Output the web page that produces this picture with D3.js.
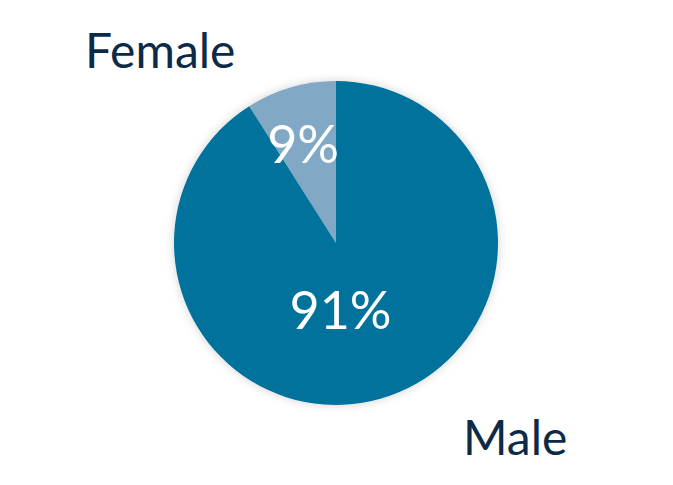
<!DOCTYPE html>
<html>
<head>
<meta charset="utf-8">
<script src="https://cdn.jsdelivr.net/npm/d3@7"></script>
<style>
  html, body { margin: 0; padding: 0; background: #fff; }
  text { font-family: Lato, "Open Sans", sans-serif; }
</style>
</head>
<body>
<main></main>
<script>
let categories = ['Female', 'Male']
let values = [9, 91]
let colors = ['#81a9c5', '#00729b']
let valueLabels = ['9%', '91%']

let width = 673
let height = 485
let cx = 336, cy = 243
let radius = 162

let svg = d3.select('main')
  .append('svg')
  .attr('width', width)
  .attr('height', height)

// soft shadow round the pie
let defs = svg.append('defs')
let filter = defs.append('filter')
  .attr('id', 'shadow')
  .attr('x', '-20%').attr('y', '-20%')
  .attr('width', '140%').attr('height', '140%')
filter.append('feDropShadow')
  .attr('dx', 0).attr('dy', 0)
  .attr('stdDeviation', 5)
  .attr('flood-color', '#000')
  .attr('flood-opacity', 0.18)

let data = categories.map((c, i) => ({name: c, value: values[i], color: colors[i], label: valueLabels[i]}))

// female slice runs counterclockwise from 12 o'clock
let pie = d3.pie()
  .value(d => d.value)
  .sort(null)
  .startAngle(-2 * Math.PI * values[0] / 100)
  .endAngle(2 * Math.PI - 2 * Math.PI * values[0] / 100)

let arc = d3.arc().innerRadius(0).outerRadius(radius)

let g = svg.append('g')
  .attr('transform', `translate(${cx}, ${cy})`)

g.append('g')
  .attr('filter', 'url(#shadow)')
  .selectAll('path')
  .data(pie(data))
  .enter()
  .append('path')
  .attr('d', arc)
  .style('fill', d => d.data.color)

// percentage labels inside the slices
let labelRadius = [100, 70]
g.selectAll('text.pct')
  .data(pie(data))
  .enter()
  .append('text')
  .attr('class', 'pct')
  .attr('transform', (d, i) => {
    let [x, y] = d3.arc().innerRadius(labelRadius[i]).outerRadius(labelRadius[i]).centroid(d)
    if (i === 1) x -= 15
    return `translate(${x - (i === 0 ? 5 : 0)}, ${y - (i === 0 ? 3 : 0)})`
  })
  .attr('text-anchor', 'middle')
  .attr('dy', '0.36em')
  .style('fill', '#fff')
  .style('font-size', '52px')
  .text(d => d.data.label)

// category names outside the pie
svg.append('text')
  .attr('x', 85)
  .attr('y', 68)
  .style('fill', '#0d2a47')
  .style('font-size', '48px')
  .text(categories[0])

svg.append('text')
  .attr('x', 463)
  .attr('y', 455)
  .style('fill', '#0d2a47')
  .style('font-size', '48px')
  .text(categories[1])
</script>
</body>
</html>
